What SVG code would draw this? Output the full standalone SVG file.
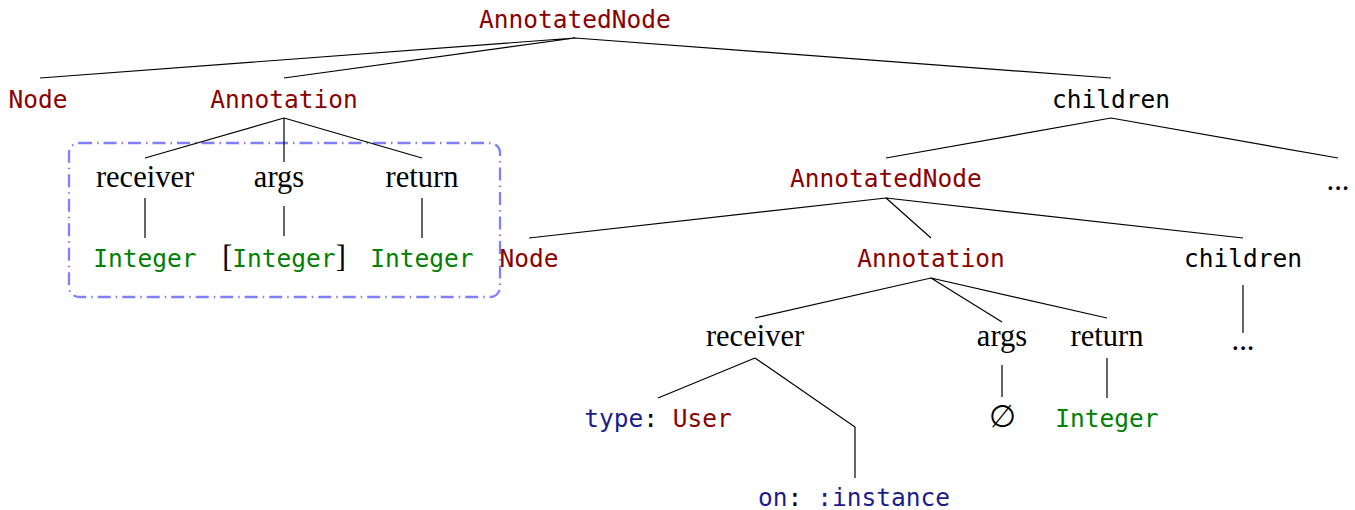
<svg xmlns="http://www.w3.org/2000/svg" width="1355" height="510" viewBox="0 0 1355 510">
<style>
.m{font-family:"DejaVu Sans Mono",monospace;font-size:24.5px;text-anchor:middle}
.s{font-family:"Liberation Serif",serif;font-size:30.5px;text-anchor:middle;fill:#000}
.r{fill:#8b0000}.g{fill:#008000}.b{fill:#1c1c8c}.k{fill:#000}
.e{stroke:#000;stroke-width:1.2;fill:none}
</style>
<rect width="1355" height="510" fill="#fff"/>
<rect x="69" y="143" width="431" height="154" rx="10" fill="none" stroke="#8080ff" stroke-width="2.3" stroke-dasharray="13 5 1.5 5"/>
<g id="connectors" class="e">
<path d="M575 38L40 78M575 38L284 78M575 38L1111 78"/>
<path d="M284 118L145 158M284 118L284 162M284 118L422 158"/>
<path d="M145 198V238M284 206V236M422 198V238"/>
<path d="M1111 118L886 158M1111 118L1338 158"/>
<path d="M886 198L529 238M886 198L931 238M886 198L1243 238"/>
<path d="M931 278L755 318M931 278L1002 322M931 278L1107 318"/>
<path d="M1243 285V333M1002 365V397M1107 358V398"/>
<path d="M755 358L658 398M755 358L855 427V478"/>
</g>
<g id="n-root"><text class="m r" x="575" y="28">AnnotatedNode</text></g>
<g id="n-node1"><text class="m r" x="38" y="108">Node</text></g>
<g id="n-ann1"><text class="m r" x="284" y="108">Annotation</text></g>
<g id="n-children1"><text class="m k" x="1111" y="108">children</text></g>
<g id="n-recv1"><text class="s" x="145" y="187">receiver</text></g>
<g id="n-args1"><text class="s" x="279" y="187">args</text></g>
<g id="n-ret1"><text class="s" x="422" y="187">return</text></g>
<g id="n-int1"><text class="m g" x="145" y="267">Integer</text></g>
<g id="n-intlist1"><text x="284" y="267" style="text-anchor:middle"><tspan style="font-family:'Liberation Serif',serif;font-size:30.5px">[</tspan><tspan class="g" style="font-family:'DejaVu Sans Mono',monospace;font-size:24.5px">Integer</tspan><tspan style="font-family:'Liberation Serif',serif;font-size:30.5px">]</tspan></text></g>
<g id="n-int2"><text class="m g" x="422" y="267">Integer</text></g>
<g id="n-ann-node2"><text class="m r" x="886" y="187">AnnotatedNode</text></g>
<g id="n-dots1"><text class="s" x="1338" y="190">...</text></g>
<g id="n-node2"><text class="m r" x="529" y="267">Node</text></g>
<g id="n-ann2"><text class="m r" x="931" y="267">Annotation</text></g>
<g id="n-children2"><text class="m k" x="1243" y="267">children</text></g>
<g id="n-recv2"><text class="s" x="755" y="346">receiver</text></g>
<g id="n-args2"><text class="s" x="1002" y="346">args</text></g>
<g id="n-ret2"><text class="s" x="1107" y="346">return</text></g>
<g id="n-dots2"><text class="s" x="1243" y="350">...</text></g>
<g id="n-type"><text class="m" x="658" y="427"><tspan class="b">type</tspan><tspan class="k">: </tspan><tspan class="r">User</tspan></text></g>
<g id="n-empty"><text class="s" x="1002" y="427" style="font-weight:300">∅</text></g>
<g id="n-int3"><text class="m g" x="1107" y="427">Integer</text></g>
<g id="n-on"><text class="m" x="854" y="506"><tspan class="b">on</tspan><tspan class="k">: </tspan><tspan class="b">:instance</tspan></text></g>
</svg>
